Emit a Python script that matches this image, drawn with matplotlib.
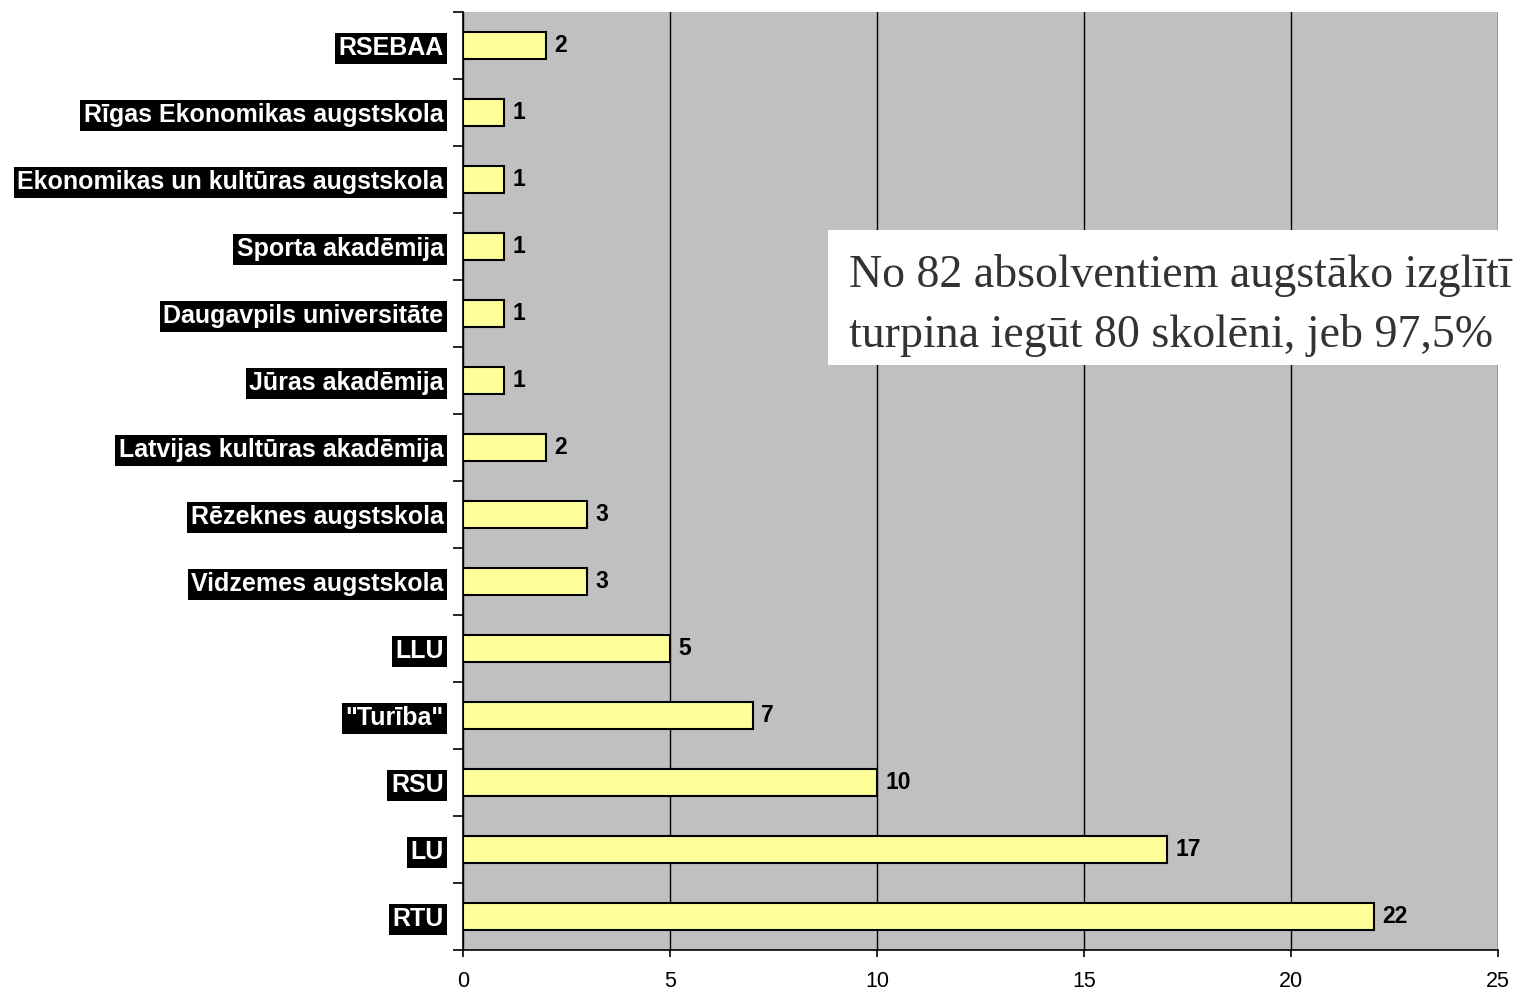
import matplotlib
matplotlib.use("Agg")
import matplotlib.pyplot as plt
import numpy as np
from matplotlib.patches import Rectangle

# Dati (no augšas uz leju)
augstskolas = ["RSEBAA", "Rīgas Ekonomikas augstskola", "Ekonomikas un kultūras augstskola",
               "Sporta akadēmija", "Daugavpils universitāte", "Jūras akadēmija",
               "Latvijas kultūras akadēmija", "Rēzeknes augstskola", "Vidzemes augstskola",
               "LLU", "\"Turība\"", "RSU", "LU", "RTU"]
skaits = [2, 1, 1, 1, 1, 1, 2, 3, 3, 5, 7, 10, 17, 22]
x_ticks = [0, 5, 10, 15, 20, 25]
# pirmā rinda oriģinālā ir nogriezta pie malas
teksts = ["No 82 absolventiem augstāko izglītī",
          "turpina iegūt 80 skolēni, jeb 97,5%"]

plt.rcParams['font.family'] = ['Liberation Sans', 'DejaVu Sans']

fig = plt.figure(figsize=(15.15, 9.91), dpi=100)
ax = fig.add_axes([463 / 1515, 1 - 950 / 991, 1035 / 1515, 938 / 991])
ax.set_facecolor('#C0C0C0')

y = np.arange(len(augstskolas))
ax.barh(y, skaits, height=0.4, color='#FFFF99', edgecolor='black', linewidth=1.5, zorder=3)
for yi, v in zip(y, skaits):
    ax.text(v + 0.2, yi, str(v), va='center', ha='left', fontsize=16.5,
            fontweight='bold', color='black', zorder=4)

ax.set_xlim(0, 25)
ax.set_ylim(len(augstskolas) - 0.5, -0.5)
ax.set_xticks(x_ticks)
ax.set_xticklabels([str(t) for t in x_ticks], fontsize=15.5)
ax.xaxis.grid(True, color='black', linewidth=1.0, zorder=1)
ax.set_axisbelow(True)

ax.set_yticks(y)
ax.set_yticklabels(augstskolas, fontsize=18, fontweight='bold', color='white')
ax.set_yticks(np.arange(-0.5, len(augstskolas), 1), minor=True)
ax.tick_params(axis='y', which='major', length=0, pad=14)
ax.tick_params(axis='y', which='minor', length=7, width=1.2, direction='out')
ax.tick_params(axis='x', length=5, width=1.2, direction='out', pad=10)
for lbl in ax.get_yticklabels():
    lbl.set_bbox(dict(facecolor='black', edgecolor='none', pad=2.5))

for s in ['top', 'right']:
    ax.spines[s].set_visible(False)
ax.spines['left'].set_linewidth(1.2)
ax.spines['bottom'].set_linewidth(1.2)

# Teksta lodziņš
fig.patches.append(Rectangle((828 / 1515, 1 - 365 / 991), 670 / 1515, 135 / 991,
                             transform=fig.transFigure, facecolor='white',
                             edgecolor='none', zorder=5))
for i, rinda in enumerate(teksts):
    fig.text(849 / 1515, 1 - (287 + 60 * i) / 991, rinda, fontsize=33,
             family=['Liberation Serif', 'DejaVu Serif'], color='#333333',
             ha='left', va='baseline', zorder=6)

fig.savefig("out.png", dpi=100)
